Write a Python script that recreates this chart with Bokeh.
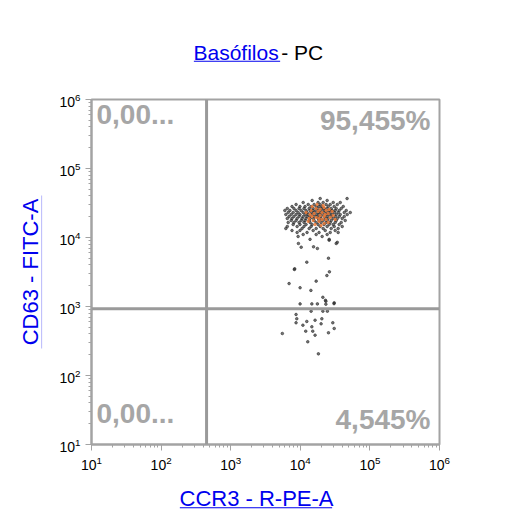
from bokeh.plotting import figure
from bokeh.models import Span, Label
from bokeh.embed import file_html
from bokeh.resources import INLINE

# ---------------- data ----------------
title_main = "Basófilos"
title_rest = "- PC"
x_label = "CCR3 - R-PE-A"
y_label = "CD63 - FITC-A"
quadrant_texts = ["0,00...", "95,455%", "0,00...", "4,545%"]  # UL, UR, LL, LR
gate_x = 450     # CCR3 threshold
gate_y = 930     # CD63 threshold
axis_min = 10
axis_max = 1e6

ccr3_events = [
    47000, 19300, 14800, 24300, 11000, 18000, 21300, 29700, 37500,
    8700, 13000, 15800, 19300, 23500, 26900, 34000,
    7600, 9900, 11700, 14300, 16900, 18600, 20600, 25200, 30700, 41400,
    6500, 8100, 9600, 11300, 13400, 15300, 17400, 19900, 22000, 24300, 27800, 32800, 38700,
    6000, 7100, 8700, 10300, 12100, 13800, 15300, 16900, 18600, 20600, 22800, 26000, 28700, 31700, 36200, 45700,
    6700, 7900, 9300, 11000, 12500, 14300, 15800, 18000, 19900, 22000, 24300, 26900, 30700, 35000, 42800, 52200,
    6200, 7400, 8700, 9900, 11700, 13000, 14800, 16900, 18600, 20600, 23500, 26000, 28700, 32800, 37500, 47200,
    6900, 8100, 9600, 11000, 12500, 13800, 15800, 17400, 19300, 22000, 24300, 27800, 31700, 36200, 42800,
    6500, 7600, 9000, 10600, 12100, 13800, 15300, 18000, 19900, 22800, 25200, 29700, 34000, 40000,
    7400, 8700, 10300, 11700, 13400, 15800, 18600, 21300, 24300, 27800, 32800, 44200,
    6700, 8100, 9600, 11300, 13800, 16900, 19900, 23500, 26900, 31700, 38700,
    7900, 9900, 12100, 14800, 18000, 22000, 26000, 29700, 36200,
    6500, 9000, 11300, 14300, 19300, 24300, 30700, 40000,
    6200, 10600, 13400, 16900, 21300, 27800, 35000,
    7600, 9900, 15300, 22800, 31700,
    9000, 12500, 18600, 26900, 35000,
    11000, 16900, 24300,
    9300, 20600,
    26000, 13800, 34000,
    9400, 10300, 15500, 17600, 26000, 32800, 12400, 25400, 8220, 8300,
    26200, 24100, 16900, 6900, 9930, 14200, 21100, 23000, 30700,
    9930, 14650, 17600, 23300, 23300, 30500,
    8690, 14300, 21100, 24500, 8900, 12400, 16300, 20400, 8690, 10900,
    19900, 29300, 14650, 11970, 15100, 30700, 5520, 16300, 25400, 12800, 18200,
]
cd63_events = [
    36700, 36700, 34400, 34400, 32150, 32150, 32150, 32150, 32150,
    30080, 30080, 30080, 30080, 30080, 30080, 30080,
    28130, 28130, 28130, 28130, 28130, 28130, 28130, 28130, 28130, 28130,
    26320, 26320, 26320, 26320, 26320, 26320, 26320, 26320, 26320, 26320, 26320, 26320, 26320,
    24620, 24620, 24620, 24620, 24620, 24620, 24620, 24620, 24620, 24620, 24620, 24620, 24620, 24620, 24620, 24620,
    23030, 23030, 23030, 23030, 23030, 23030, 23030, 23030, 23030, 23030, 23030, 23030, 23030, 23030, 23030, 23030,
    21540, 21540, 21540, 21540, 21540, 21540, 21540, 21540, 21540, 21540, 21540, 21540, 21540, 21540, 21540, 21540,
    20150, 20150, 20150, 20150, 20150, 20150, 20150, 20150, 20150, 20150, 20150, 20150, 20150, 20150, 20150,
    18860, 18860, 18860, 18860, 18860, 18860, 18860, 18860, 18860, 18860, 18860, 18860, 18860, 18860,
    17640, 17640, 17640, 17640, 17640, 17640, 17640, 17640, 17640, 17640, 17640, 17640,
    16500, 16500, 16500, 16500, 16500, 16500, 16500, 16500, 16500, 16500, 16500,
    15430, 15430, 15430, 15430, 15430, 15430, 15430, 15430, 15430,
    14440, 14440, 14440, 14440, 14440, 14440, 14440, 14440,
    13500, 13500, 13500, 13500, 13500, 13500, 13500,
    12630, 12630, 12630, 12630, 12630,
    11820, 11820, 11820, 11820, 11820,
    11050, 11050, 11050,
    10340, 10340,
    9400, 9400, 8500,
    8190, 7230, 7330, 6930, 9140, 8190, 4390, 5010, 3440, 3520,
    3180, 2810, 2330, 2150, 1870, 1710, 1360, 1230, 1130,
    1090, 1090, 1090, 1190, 1080, 1100,
    766, 855, 855, 855, 664, 607, 633, 664, 581, 536,
    561, 581, 508, 439, 439, 480, 406, 384, 416, 308, 206,
]
ccr3_dense = [
    14800, 16900, 19300, 22000, 18000, 20600, 23500, 15800, 19300, 22000,
    25200, 13800, 16900, 20600, 26900, 23500, 15300, 18600, 13400, 28700,
    17400, 21300, 12100, 25200, 16300, 19900, 29700, 14300, 18600, 22800,
    26000, 31700, 13000, 22000, 14800,
]
cd63_dense = [
    28100, 26300, 25500, 27200, 23800, 23000, 24600, 22300, 20800, 20150,
    22300, 21500, 19500, 18200, 19500, 18200, 17600, 17100, 18900, 23800,
    30100, 29100, 23000, 16500, 15400, 14900, 20800, 24600, 18900, 21500,
    25500, 18200, 17100, 16000, 20150,
]

# ---------------- figure ----------------
FONT = "Liberation Sans"
GRAY = "#a3a3a3"
LINK = "#0000ee"

p = figure(width=523, height=529,
           x_axis_type="log", y_axis_type="log",
           x_range=(axis_min, axis_max), y_range=(axis_min, axis_max),
           output_backend="svg", toolbar_location=None,
           min_border_left=91, min_border_right=84,
           min_border_top=99, min_border_bottom=85)

p.background_fill_color = "white"
p.border_fill_color = "white"
p.outline_line_color = GRAY
p.outline_line_width = 2
p.grid.visible = False

for ax in (p.xaxis, p.yaxis):
    ax.axis_line_color = GRAY
    ax.axis_line_width = 2
    ax.major_tick_line_color = GRAY
    ax.minor_tick_line_color = GRAY
    ax.major_tick_in = 0
    ax.minor_tick_in = 0
    ax.major_tick_out = 6
    ax.minor_tick_out = 3
    ax.major_label_text_font = FONT
    ax.major_label_text_font_size = "14px"
    ax.major_label_text_color = "black"
    ax.axis_label_text_font = FONT
    ax.axis_label_text_font_size = "22px"
    ax.axis_label_text_font_style = "normal"
    ax.axis_label_text_color = LINK

p.yaxis.axis_label = y_label
p.yaxis.axis_label_standoff = 13

p.add_layout(Span(location=gate_x, dimension="height", line_color="#9a9a9a", line_width=3))
p.add_layout(Span(location=gate_y, dimension="width", line_color="#9a9a9a", line_width=3))

p.scatter(ccr3_events, cd63_events, size=2.6, color="#2e2e2e", alpha=0.65)
p.scatter(ccr3_dense, cd63_dense, size=2.4, color="#f07b35", alpha=0.75)

qstyle = dict(text_font=FONT, text_font_size="28px", text_font_style="bold",
              text_color="#a6a6a6", text_baseline="top")
p.add_layout(Label(x=axis_min, y=axis_max, text=quadrant_texts[0], x_offset=5, y_offset=-5,
                   text_align="left", **qstyle))
p.add_layout(Label(x=axis_max, y=axis_max, text=quadrant_texts[1], x_offset=-9, y_offset=-5,
                   text_align="right", **qstyle))
p.add_layout(Label(x=axis_min, y=axis_min, text=quadrant_texts[2], x_offset=5, y_offset=41,
                   text_align="left", **qstyle))
p.add_layout(Label(x=axis_max, y=axis_min, text=quadrant_texts[3], x_offset=-9, y_offset=41,
                   text_align="right", **qstyle))

# texts outside the frame live in side panels (not clipped to the frame)
tstyle = dict(x_units="screen", y_units="screen", text_font=FONT, text_baseline="top",
              text_align="left")
p.add_layout(Label(x=102, y=59, text=title_main, text_color=LINK, text_font_size="21px",
                   **tstyle), "above")
p.add_layout(Label(x=-158.3, y=404, text=title_rest, text_color="black", text_font_size="21px",
                   **tstyle), "right")
p.add_layout(Label(x=88, y=-409.5, text=x_label, text_color=LINK, text_font_size="22px",
                   **tstyle), "above")

# underlines of the link-styled texts: thin filled label boxes
ustyle = dict(x_units="screen", y_units="screen", text=" ", text_font_size="1px",
              text_align="center", text_baseline="middle",
              background_fill_color=LINK, background_fill_alpha=1.0)
p.add_layout(Label(x=145.5, y=-9.7, padding=(43, 0), **ustyle), "above")
p.add_layout(Label(x=164.5, y=-457.3, padding=(76, 0), **ustyle), "above")
p.add_layout(Label(x=-439.6, y=172.5, padding=(0, 76), **ustyle), "right")

with open("out.html", "w") as f:
    f.write(file_html(p, INLINE))
